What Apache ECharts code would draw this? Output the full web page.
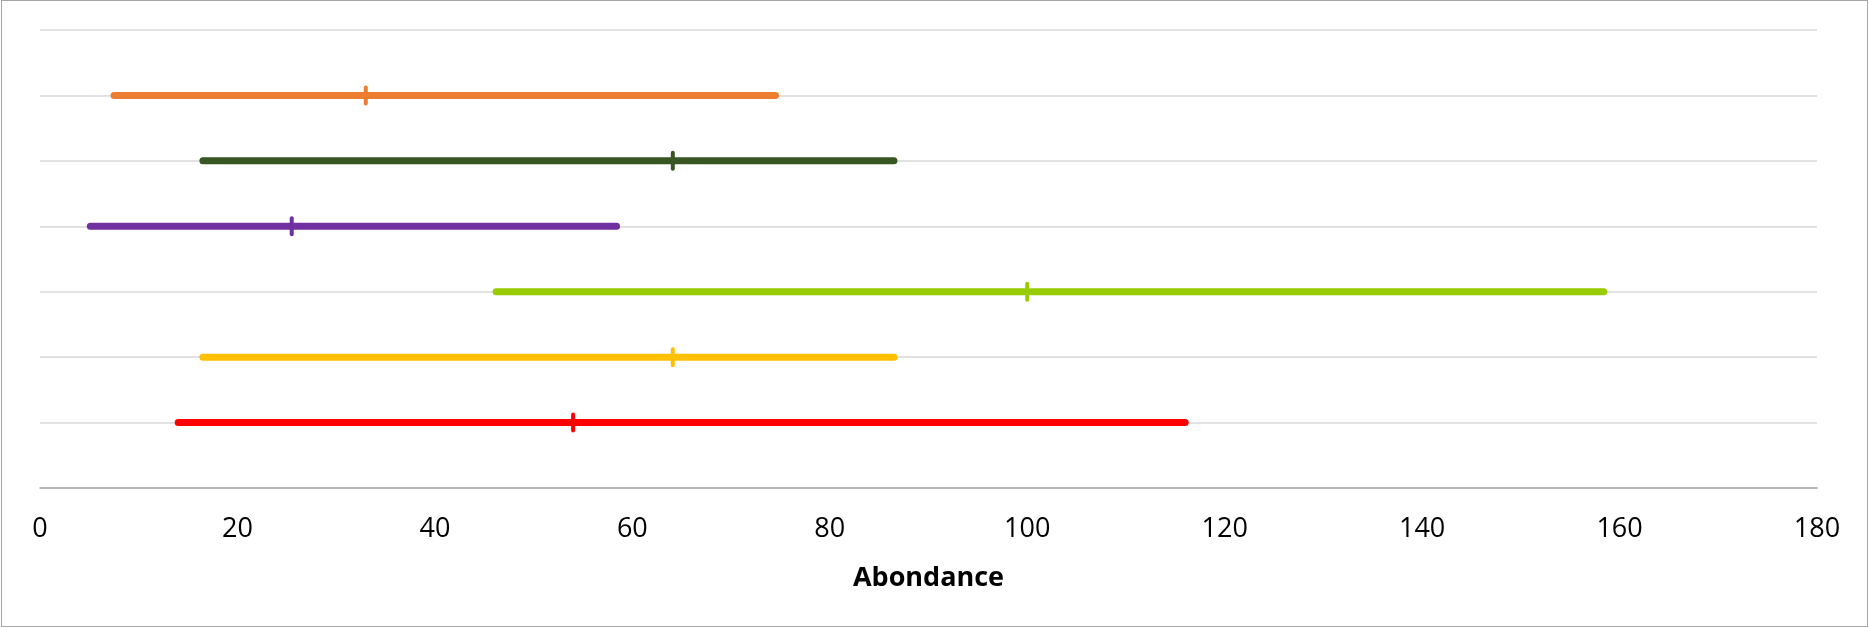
<!DOCTYPE html>
<html>
<head>
<meta charset="utf-8">
<script src="https://cdn.jsdelivr.net/npm/echarts@6/dist/echarts.min.js"></script>
<style>
html,body{margin:0;padding:0;background:#fff;}
#frame{position:absolute;left:1px;top:0px;width:1867px;height:627px;box-sizing:border-box;border:1px solid #a6a6a6;}
#chart{position:absolute;left:0;top:0;width:1869px;height:627px;}
</style>
</head>
<body>
<div id="frame"></div>
<div id="chart"></div>
<script>
// Rows (bottom to top) on the value y-axis
const rows = [1, 2, 3, 4, 5, 6];
const minVals  = [14.0, 16.5, 46.2, 5.1, 16.5, 7.5];
const meanVals = [54.0, 64.1, 100.0, 25.5, 64.1, 33.0];
const maxVals  = [116.0, 86.5, 158.4, 58.4, 86.5, 74.5];
const xTicks = [0, 20, 40, 60, 80, 100, 120, 140, 160, 180];
const xTitle = 'Abondance';

const colors = ['#FF0000', '#FFC000', '#99CC00', '#7030A0', '#375623', '#ED7D31'];

const data = rows.map((r, i) => [minVals[i], meanVals[i], maxVals[i], r]);

const chart = echarts.init(document.getElementById('chart'));
chart.setOption({
  animation: false,
  grid: { left: 40, right: 52, top: 30, bottom: 139 },
  xAxis: {
    type: 'value',
    min: xTicks[0],
    max: xTicks[xTicks.length - 1],
    interval: xTicks[1] - xTicks[0],
    name: xTitle,
    nameLocation: 'middle',
    nameGap: 77,
    nameTextStyle: { fontFamily: 'Open Sans', fontWeight: 'bold', fontSize: 27, color: '#000' },
    axisLine: { lineStyle: { color: '#a6a6a6', width: 1.5 } },
    axisTick: { show: false },
    splitLine: { show: false },
    axisLabel: { fontFamily: 'Open Sans', fontSize: 27, color: '#000', margin: 28 }
  },
  yAxis: {
    type: 'value',
    min: 0,
    max: 7,
    interval: 1,
    axisLine: { show: false },
    axisTick: { show: false },
    axisLabel: { show: false },
    splitLine: { lineStyle: { color: '#d9d9d9', width: 1.5 } }
  },
  series: [{
    type: 'custom',
    data: data,
    encode: { x: [0, 1, 2], y: 3 },
    renderItem: function (params, api) {
      const i = params.dataIndex;
      const y = api.value(3);
      const p0 = api.coord([api.value(0), y]);
      const pm = api.coord([api.value(1), y]);
      const p1 = api.coord([api.value(2), y]);
      const c = colors[i];
      return {
        type: 'group',
        children: [
          { type: 'line', shape: { x1: p0[0], y1: p0[1], x2: p1[0], y2: p1[1] },
            style: { stroke: c, lineWidth: 7, lineCap: 'round' } },
          { type: 'line', shape: { x1: pm[0], y1: pm[1] - 8, x2: pm[0], y2: pm[1] + 8 },
            style: { stroke: c, lineWidth: 4, lineCap: 'round' } }
        ]
      };
    }
  }]
});
</script>
</body>
</html>
